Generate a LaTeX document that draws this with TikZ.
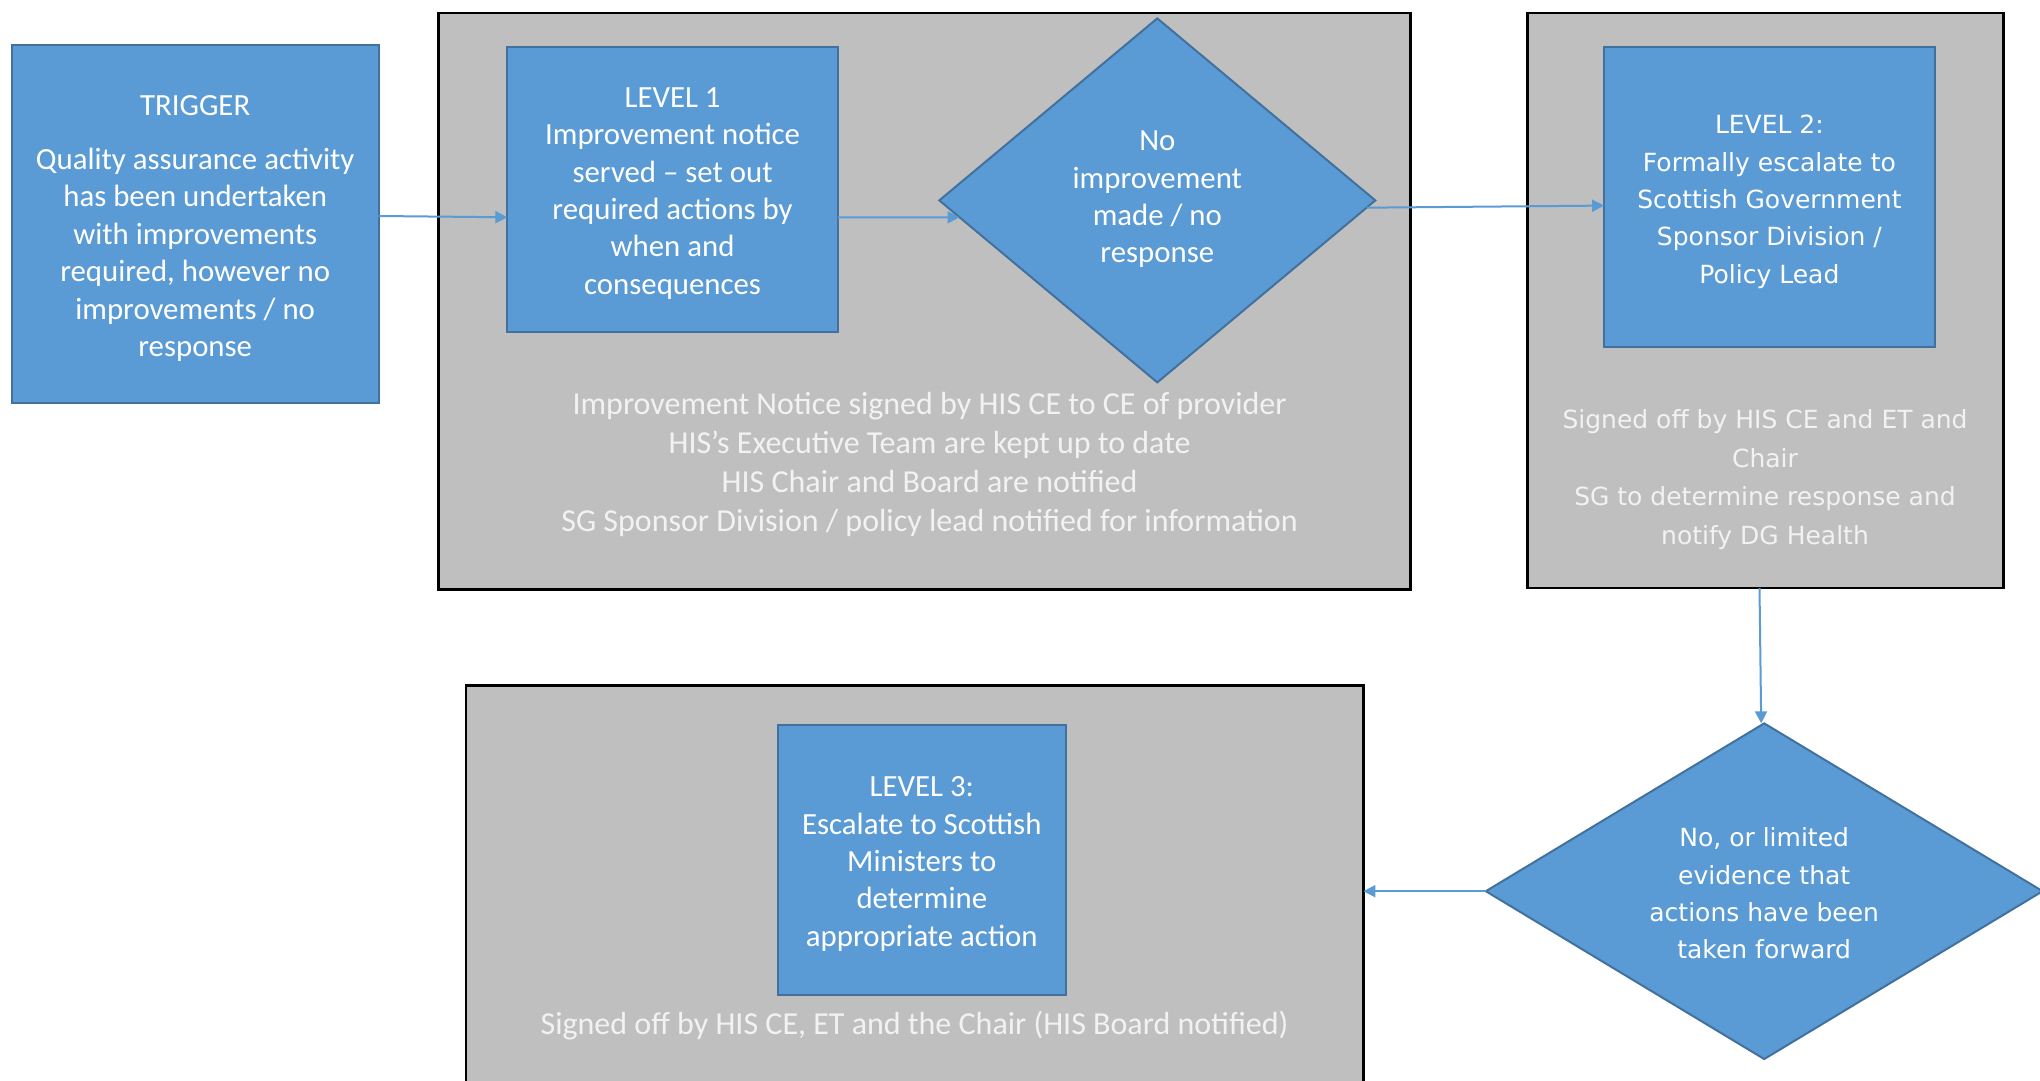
\documentclass[tikz,border=0pt]{standalone}
\usepackage{fontspec}
\setmainfont{Carlito}
\newfontfamily\vfont{DejaVu Sans}
\usetikzlibrary{shapes.geometric,calc,arrows.meta}
\definecolor{bluefill}{HTML}{5B9BD5}
\definecolor{blueline}{HTML}{41719C}
\definecolor{grayfill}{HTML}{BFBFBF}
\definecolor{graytext}{HTML}{F2F2F2}
\newcommand{\blk}[2][-4pt]{\raisebox{#1}[\height][\depth]{\begin{tabular}{@{}c@{}}#2\end{tabular}}}
\tikzset{
  bluebox/.style={draw=blueline,line width=2pt,fill=bluefill,text=white,inner sep=0pt,outer sep=0pt,font=\fontsize{30.8}{37.4}\selectfont},
  graybox/.style={draw=black,line width=2.5pt,fill=grayfill,inner sep=0pt,outer sep=0pt},
  bluediamond/.style={diamond,draw=blueline,line width=2pt,fill=bluefill,text=white,inner sep=0pt,outer sep=0pt},
  graynote/.style={text=graytext,align=center,inner sep=0pt},
  arr/.style={draw=bluefill,line width=2pt,-{Triangle[length=12pt,width=12pt]}}
}
\begin{document}
\begin{tikzpicture}[x=1pt,y=-1pt]
\useasboundingbox (0,0) rectangle (2040,1081);
\clip (0,0) rectangle (2040,1081);
% containers
\node[graybox,minimum width=971.9pt,minimum height=576.4pt] (g1) at (924.4,301.2) {};
\node[graybox,minimum width=476.1pt,minimum height=575pt] (g2) at (1765.5,300.5) {};
\node[graybox,minimum width=897.6pt,minimum height=414.4pt] (g3) at (914.6,892.8) {};
% blue boxes
\node[bluebox,minimum width=366.9pt,minimum height=357.8pt] (trig) at (195.2,224.4)
  {\blk{TRIGGER\\[17pt]Quality assurance activity\\has been undertaken\\with improvements\\required, however no\\improvements / no\\response}};
\node[bluebox,minimum width=330.4pt,minimum height=285pt] (l1) at (672.6,189.3)
  {\blk{LEVEL 1\\Improvement notice\\served -- set out\\required actions by\\when and\\consequences}};
\node[bluediamond,minimum width=436pt,minimum height=364pt,aspect=1.2,font=\fontsize{30.8}{37.3}\selectfont] (d1) at (1157.3,200.4)
  {\blk[1pt]{No\\improvement\\made / no\\response}};
\node[bluebox,minimum width=330.5pt,minimum height=300.6pt,font=\vfont\fontsize{25}{37.4}\selectfont] (l2) at (1769.4,197.1)
  {\blk{LEVEL 2:\\Formally escalate to\\Scottish Government\\Sponsor Division /\\Policy Lead}};
\node[bluebox,minimum width=287.5pt,minimum height=270.6pt,font=\fontsize{30.8}{37.3}\selectfont] (l3) at (921.8,860)
  {\blk{LEVEL 3:\\Escalate to Scottish\\Ministers to\\determine\\appropriate action}};
\node[bluediamond,minimum width=556.8pt,minimum height=335.7pt,aspect=1.66,font=\vfont\fontsize{25}{37.3}\selectfont] (d2) at (1764.2,891.2)
  {\blk{No, or limited\\evidence that\\actions have been\\taken forward}};
% notes
\node[graynote,font=\fontsize{32}{39}\selectfont] (n1) at (929.6,464.2)
  {Improvement Notice signed by HIS CE to CE of provider\\HIS’s Executive Team are kept up to date\\HIS Chair and Board are notified\\SG Sponsor Division / policy lead notified for information};
\node[graynote,font=\vfont\fontsize{25}{38.7}\selectfont] (n2) at (1765,479.6)
  {Signed off by HIS CE and ET and\\Chair\\SG to determine response and\\notify DG Health};
\node[graynote,font=\fontsize{32}{39}\selectfont] (n3) at (914.6,1025.2)
  {Signed off by HIS CE, ET and the Chair (HIS Board notified)};
% connectors
\draw[arr] ([yshift=8.4pt]trig.east) -- ([yshift=-28pt]l1.west);
\draw[arr] ([yshift=-28pt]l1.east) -- ($(d1.west)!0.093!(d1.south)$);
\draw[arr] ($(d1.east)!0.04!(d1.south)$) -- ([yshift=-8.5pt]l2.west);
\draw[arr] ([xshift=-6pt]g2.south) -- ([xshift=-3pt]d2.north);
\draw[arr] (d2.west) -- (d2.west -| g3.east);
\end{tikzpicture}
\end{document}
